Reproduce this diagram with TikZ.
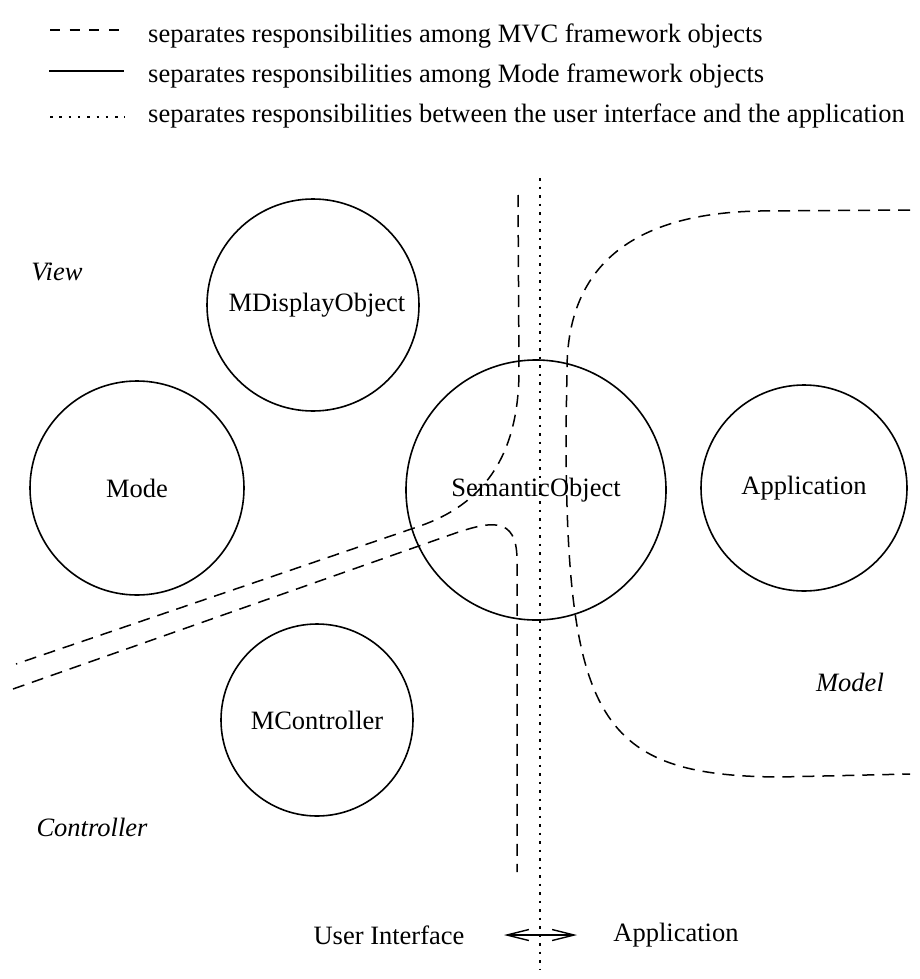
\documentclass[tikz,border=0pt]{standalone}
\usepackage{fontspec}
\setmainfont{Liberation Serif}
\usetikzlibrary{arrows.meta}
\begin{document}
\begin{tikzpicture}[x=1pt,y=-1pt,
  every node/.style={font=\fontsize{26.5}{32}\selectfont, inner sep=0pt},
  obj/.style={draw, circle, line width=1.6pt},
  mvc/.style={line width=1.5pt, dash pattern=on 12pt off 8pt},
  ui/.style={line width=1.5pt, dash pattern=on 2.5pt off 6pt},
  lbl/.style={font=\fontsize{26.5}{32}\selectfont\itshape}]
\useasboundingbox (0,0) rectangle (920,979);
% legend
\coordinate (l1a) at (50,30); \coordinate (l1b) at (120,30);
\coordinate (l2a) at (49,71); \coordinate (l2b) at (124,71);
\coordinate (l3a) at (50,117); \coordinate (l3b) at (125,117);
\draw[line width=1.5pt, dash pattern=on 10pt off 9.7pt] (l1a) -- (l1b);
\draw[line width=1.6pt] (l2a) -- (l2b);
\draw[line width=1.5pt, dash pattern=on 2.5pt off 6.8pt] (l3a) -- (l3b);
\node[anchor=west] (t1) at (148,36) {separates responsibilities among MVC framework objects};
\node[anchor=west] (t2) at (148,76) {separates responsibilities among Mode framework objects};
\node[anchor=west] (t3) at (148,116) {separates responsibilities between the user interface and the application};
% objects
\node[obj, minimum size=212pt] (mdo) at (313,305) {};
\node[obj, minimum size=214pt] (mode) at (137,488) {};
\node[obj, minimum size=260pt] (sem) at (536,490) {};
\node[obj, minimum size=206pt] (app) at (804,488) {};
\node[obj, minimum size=192pt] (mc) at (317,720) {};
\node (mdot) at ([xshift=4pt]mdo.center) {MDisplayObject};
\node (modet) at (mode) {Mode};
\node (semt) at (sem) {SemanticObject};
\node (appt) at (app) {Application};
\node (mct) at (mc) {MController};
% region labels
\node[lbl] (view) at (57,272) {View};
\node[lbl] (ctrl) at (92,827) {Controller};
\node[lbl] (model) at (850,682) {Model};
% dotted UI/application separator
\coordinate (d1) at (540,178);
\coordinate (d2) at (540,970);
\draw[ui] (d1) -- (d2);
% MVC separators
\coordinate (a1) at (518,195);
\coordinate (a2) at (16,664);
\draw[mvc] (a1) -- (519,370) .. controls (519,460) and (480,505) .. (420,526) -- (a2);
\coordinate (b1) at (13,689);
\coordinate (b2) at (517,872);
\draw[mvc] (b1) -- (450,535) .. controls (490,521) and (517,515) .. (517,560) -- (b2);
\coordinate (c1) at (910,210);
\coordinate (c2) at (910,774);
\draw[mvc] (c1) -- (760,211) .. controls (640,213) and (567,260) .. (567,370) -- (566,430) .. controls (566,720) and (600,776) .. (780,777) -- (c2);
% bottom labels
\node (ui) at (389,935) {User Interface};
\node (apl) at (676,935) {Application};
\coordinate (arl) at (504,935);
\coordinate (arr) at (577,935);
\draw[line width=1.4pt, {Straight Barb[length=22pt,width=11pt]}-{Straight Barb[length=22pt,width=11pt]}] (arl) -- (arr);
\end{tikzpicture}
\end{document}
